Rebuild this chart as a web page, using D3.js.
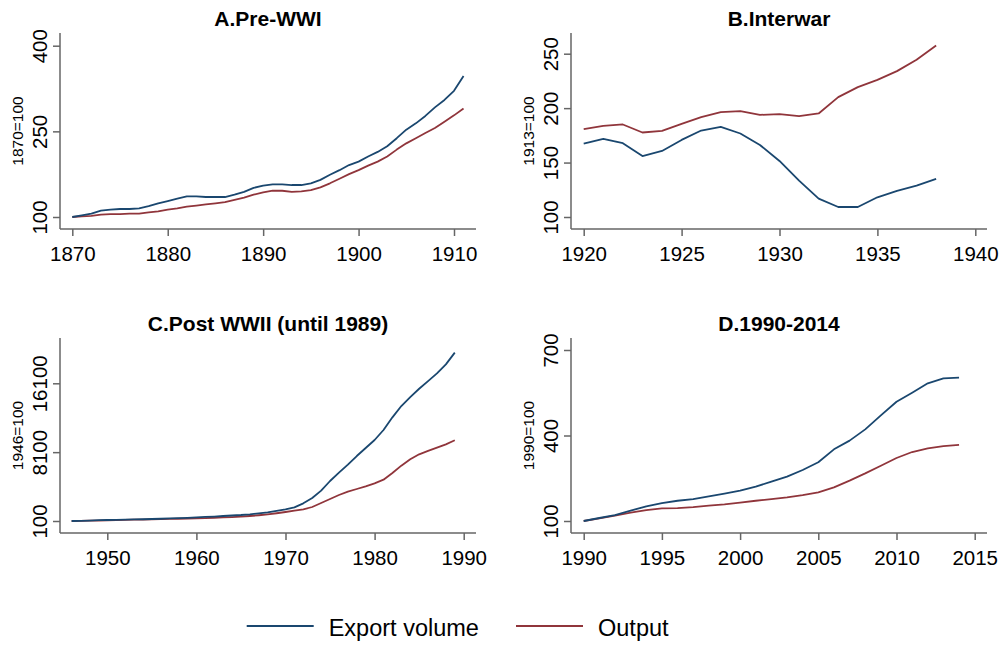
<!DOCTYPE html>
<html>
<head>
<meta charset="utf-8">
<script src="https://cdn.jsdelivr.net/npm/d3@7"></script>
<style>
body{margin:0;background:#fff;font-family:"Liberation Sans",Arial,Helvetica,sans-serif;}
</style>
</head>
<body>
<main></main>
<script>
// data: index values
const yearsA=d3.range(1870,1912)
const exportA=[100,103,106,111,113,114,114,115,119,124,128,132,136,136,135,135,135,139,144,151,155,157,157,156,156,159,165,174,182,191,197,206,214,224,238,253,264,277,292,305,321,347]
const outputA=[100,101,102,104,105,105,106,106,108,110,113,115,118,120,122,124,126,130,134,139,143,146,146,144,145,147,152,159,167,175,182,190,197,206,218,229,238,247,256,267,278,290]

const yearsB=d3.range(1920,1939)
const exportB=[167.5,171.8,167.8,156,160.7,170.8,179.4,182.8,176.7,166.2,151.5,133.4,116.9,109.2,109.2,118.1,123.9,128.8,135]
const outputB=[180.7,183.7,185,177.6,179.1,185.6,191.7,196.3,197.2,193.8,194.5,192.6,195.1,210.1,219.3,226,234,244.5,257.6]

const yearsC=d3.range(1946,1990)
const exportC=[100,120,150,190,216,240,260,280,305,332,360,400,430,470,526,570,620,680,740,797,880,990,1107,1270,1456,1688,2153,2773,3625,4749,5717,6647,7650,8580,9510,10671,12143,13460,14500,15470,16360,17250,18300,19660]
const outputC=[100,115,135,155,177,200,225,250,270,294,315,340,360,385,410,440,480,520,560,604,680,770,875,1000,1146,1301,1456,1727,2192,2657,3122,3509,3819,4129,4478,4904,5679,6530,7270,7850,8240,8620,9010,9480]

const yearsD=d3.range(1990,2015)
const exportD=[100,110.5,121,136,151.5,163,171,177,186.5,196,206.5,220.5,238,255.5,279,306,351.5,382,421.5,470.5,518.5,550,583,600.5,603]
const outputD=[100,109,119,129,138.5,144.5,145.5,149,154,158.5,164.5,171,177,183,191,200.5,218,241.5,267,294,321,342,355,363,367]

const titles=["A.Pre-WWI","B.Interwar","C.Post WWII (until 1989)","D.1990-2014"]
const yLabels=["1870=100","1913=100","1946=100","1990=100"]
const xTicksA=[1870,1880,1890,1900,1910]
const xTicksB=[1920,1925,1930,1935,1940]
const xTicksC=[1950,1960,1970,1980,1990]
const xTicksD=[1990,1995,2000,2005,2010,2015]
const yTicksA=[100,250,400]
const yTicksB=[100,150,200,250]
const yTicksC=[100,8100,16100]
const yTicksD=[100,400,700]
const seriesNames=["Export volume","Output"]
const colors=["#1a476f","#90353b"]

const w=1002, h=645
const svg=d3.select("main").append("svg").attr("width",w).attr("height",h)

// layout of each panel (axis box + where two reference ticks sit)
const panels=[
  {years:yearsA,exp:exportA,out:outputA,xt:xTicksA,yt:yTicksA,
   left:60,right:476,top:33,bottom:229,xd:[1870,1910],xr:[72.3,454],yd:[100,400],yr:[217,45.7]},
  {years:yearsB,exp:exportB,out:outputB,xt:xTicksB,yt:yTicksB,
   left:571,right:987,top:33,bottom:229,xd:[1920,1940],xr:[583.7,975.3],yd:[100,250],yr:[217,53.7]},
  {years:yearsC,exp:exportC,out:outputC,xt:xTicksC,yt:yTicksC,
   left:60,right:476,top:338,bottom:533,xd:[1950,1990],xr:[107.3,463.7],yd:[100,16100],yr:[521,383.3]},
  {years:yearsD,exp:exportD,out:outputD,xt:xTicksD,yt:yTicksD,
   left:571,right:987,top:338,bottom:533,xd:[1990,2015],xr:[583.7,974.7],yd:[100,700],yr:[521,350]}
]

panels.forEach((p,i)=>{
  const x=d3.scaleLinear().domain(p.xd).range(p.xr)
  const y=d3.scaleLinear().domain(p.yd).range(p.yr)
  const g=svg.append("g")

  // title
  g.append("text")
    .attr("x",(p.left+p.right)/2)
    .attr("y",p.top-7)
    .attr("text-anchor","middle")
    .style("font-weight","bold")
    .style("font-size","21px")
    .text(titles[i])

  // x axis
  const xAxis=d3.axisBottom(x).tickValues(p.xt).tickFormat(d3.format("d")).tickSize(7).tickPadding(10)
  const gx=g.append("g")
    .attr("transform","translate(0,"+p.bottom+")")
    .call(xAxis)
  gx.select(".domain").remove()
  gx.selectAll(".tick line").attr("stroke","#666").attr("stroke-width",1.5)
  gx.selectAll(".tick text").style("font-size","20.5px").style("font-family","'Liberation Sans',Arial,sans-serif").attr("fill","#000")

  // y axis, labels rotated like Stata
  const yAxis=d3.axisLeft(y).tickValues(p.yt).tickFormat(d3.format("d")).tickSize(7)
  const gy=g.append("g")
    .attr("transform","translate("+p.left+",0)")
    .call(yAxis)
  gy.select(".domain").remove()
  gy.selectAll(".tick line").attr("stroke","#666").attr("stroke-width",1.5)
  gy.selectAll(".tick text")
    .attr("x",null).attr("dy",null)
    .attr("transform","translate(-13,0) rotate(-90)")
    .attr("text-anchor","middle")
    .attr("fill","#000")
    .style("font-size","20.5px")
    .style("font-family","'Liberation Sans',Arial,sans-serif")

  // axis lines
  g.append("line").attr("x1",p.left).attr("x2",p.left).attr("y1",p.top).attr("y2",p.bottom)
    .attr("stroke","#666").attr("stroke-width",1.5)
  g.append("line").attr("x1",p.left).attr("x2",p.right).attr("y1",p.bottom).attr("y2",p.bottom)
    .attr("stroke","#666").attr("stroke-width",1.5)

  // y title
  g.append("text")
    .attr("transform","translate("+(p.left-37)+","+((p.top+p.bottom)/2)+") rotate(-90)")
    .attr("text-anchor","middle")
    .style("font-size","15.5px")
    .text(yLabels[i])

  const line=d3.line().x((d,j)=>x(p.years[j])).y(d=>y(d))
  ;[p.out,p.exp].forEach((s,k)=>{
    g.append("path")
      .attr("d",line(s))
      .attr("fill","none")
      .attr("stroke",k==0?colors[1]:colors[0])
      .attr("stroke-width",1.8)
      .attr("stroke-linejoin","round")
  })
})

// legend
const legendX=[246.7,516]
seriesNames.forEach((n,i)=>{
  svg.append("line")
    .attr("x1",legendX[i]).attr("x2",legendX[i]+67)
    .attr("y1",626).attr("y2",626)
    .attr("stroke",colors[i]).attr("stroke-width",2)
  svg.append("text")
    .attr("x",legendX[i]+82).attr("y",636)
    .style("font-size","23.5px")
    .text(n)
})
</script>
</body>
</html>
